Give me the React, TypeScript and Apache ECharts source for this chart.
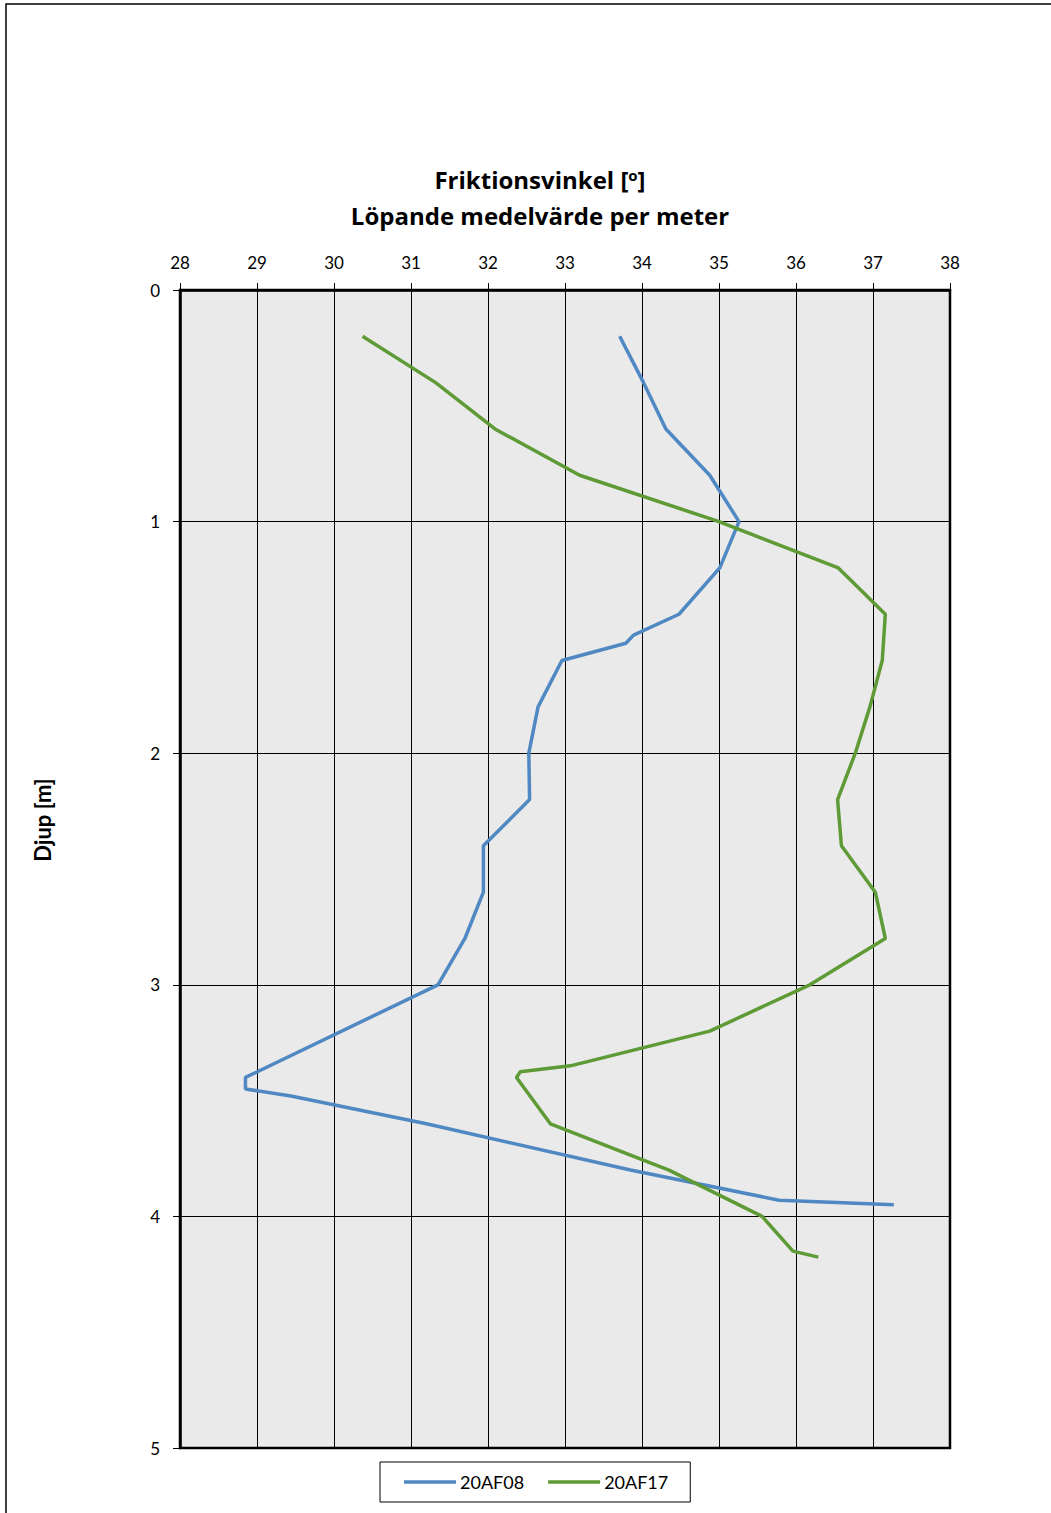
import React, { useEffect, useRef } from "react";
import * as echarts from "echarts";

const xTicks = [28, 29, 30, 31, 32, 33, 34, 35, 36, 37, 38];
const depthTicks = [0, 1, 2, 3, 4, 5];

const af08Depth = [0.2, 0.4, 0.6, 0.8, 1.0, 1.2, 1.4, 1.49, 1.525, 1.6, 1.8, 2.0, 2.2, 2.4, 2.6, 2.8, 3.0, 3.4, 3.45, 3.48, 3.6, 3.8, 3.93, 3.95];
const af08Value = [33.71, 34.02, 34.31, 34.88, 35.26, 35.01, 34.48, 33.89, 33.79, 32.96, 32.65, 32.53, 32.54, 31.94, 31.94, 31.70, 31.35, 28.85, 28.85, 29.44, 31.2, 33.85, 35.78, 37.27];

const af17Depth = [0.2, 0.4, 0.6, 0.8, 1.0, 1.2, 1.4, 1.6, 1.8, 2.0, 2.2, 2.4, 2.6, 2.8, 3.0, 3.2, 3.35, 3.375, 3.4, 3.6, 3.8, 4.0, 4.15, 4.176];
const af17Value = [30.37, 31.32, 32.09, 33.19, 35.0, 36.55, 37.16, 37.12, 36.96, 36.77, 36.54, 36.59, 37.03, 37.16, 36.18, 34.88, 33.07, 32.42, 32.37, 32.81, 34.35, 35.56, 35.96, 36.29];

const FONT = "Lato, 'Open Sans', sans-serif";
const TITLE_FONT = "'Open Sans', Lato, sans-serif";

export default function App() {
  const ref = useRef<HTMLDivElement>(null);
  useEffect(() => {
    if (!ref.current) return;
    const chart = echarts.init(ref.current, null, { renderer: "svg" });
    const pairs = (xs: number[], ds: number[]) => xs.map((v, i) => [v, ds[i]]);
    chart.setOption({
      animation: false,
      backgroundColor: "#fff",
      textStyle: { fontFamily: FONT },
      grid: {
        left: 180,
        top: 290,
        width: 770,
        height: 1158,
        show: true,
        backgroundColor: "#EAEAEA",
        borderColor: "#000",
        borderWidth: 2.5,
      },
      xAxis: {
        type: "value",
        position: "top",
        min: xTicks[0],
        max: xTicks[xTicks.length - 1],
        interval: 1,
        axisLine: { show: true, lineStyle: { color: "#000", width: 2.5 } },
        axisTick: { show: true, inside: false, length: 7, lineStyle: { color: "#000" } },
        axisLabel: { color: "#000", fontSize: 17, margin: 19, fontFamily: FONT },
        splitLine: { show: true, lineStyle: { color: "#000", width: 1 } },
      },
      yAxis: {
        type: "value",
        inverse: true,
        min: depthTicks[0],
        max: depthTicks[depthTicks.length - 1],
        interval: 1,
        axisLine: { show: true, lineStyle: { color: "#000", width: 2.5 } },
        axisTick: { show: true, inside: false, length: 7, lineStyle: { color: "#000" } },
        axisLabel: { color: "#000", fontSize: 17, margin: 20, fontFamily: FONT },
        splitLine: { show: true, lineStyle: { color: "#000", width: 1 } },
      },
      legend: {
        left: 380,
        top: 1462,
        padding: [11, 22, 11, 24],
        borderColor: "#000",
        borderWidth: 1,
        borderRadius: 0,
        icon: "rect",
        itemWidth: 52,
        itemHeight: 3.5,
        itemGap: 24,
        textStyle: { color: "#000", fontSize: 18, fontFamily: FONT, padding: [0, 0, 0, -1] },
        data: ["20AF08", "20AF17"],
      },
      series: [
        {
          name: "20AF08",
          type: "line",
          symbol: "none",
          data: pairs(af08Value, af08Depth),
          lineStyle: { color: "#4F88C2", width: 3.5 },
          itemStyle: { color: "#4F88C2" },
        },
        {
          name: "20AF17",
          type: "line",
          symbol: "none",
          data: pairs(af17Value, af17Depth),
          lineStyle: { color: "#5E9A35", width: 3.5 },
          itemStyle: { color: "#5E9A35" },
        },
      ],
      graphic: [
        {
          type: "rect",
          shape: { x: 6, y: 4, width: 1100, height: 1600 },
          style: { fill: "none", stroke: "#000", lineWidth: 1.5 },
          silent: true,
        },
        {
          type: "text",
          x: 540,
          y: 179,
          style: {
            text: "Friktionsvinkel [{sup|o}]",
            rich: { sup: { fontSize: 15, fontWeight: "bold", verticalAlign: "top", padding: [0, 0, 8, 0], fontFamily: TITLE_FONT } },
            fontSize: 24,
            fontWeight: "bold",
            fontFamily: TITLE_FONT,
            fill: "#000",
            align: "center",
            verticalAlign: "middle",
          },
        },
        {
          type: "text",
          x: 540,
          y: 215,
          style: {
            text: "Löpande medelvärde per meter",
            fontSize: 24,
            fontWeight: "bold",
            fontFamily: TITLE_FONT,
            fill: "#000",
            align: "center",
            verticalAlign: "middle",
          },
        },
        {
          type: "text",
          x: 42,
          y: 820,
          rotation: Math.PI / 2,
          style: {
            text: "Djup [m]",
            fontSize: 22,
            fontWeight: "bold",
            fontFamily: FONT,
            fill: "#000",
            align: "center",
            verticalAlign: "middle",
          },
        },
      ],
    });
    return () => chart.dispose();
  }, []);
  return (
    <div
      ref={ref}
      style={{ position: "absolute", left: 0, top: 0, width: 1051, height: 1513 }}
    />
  );
}
